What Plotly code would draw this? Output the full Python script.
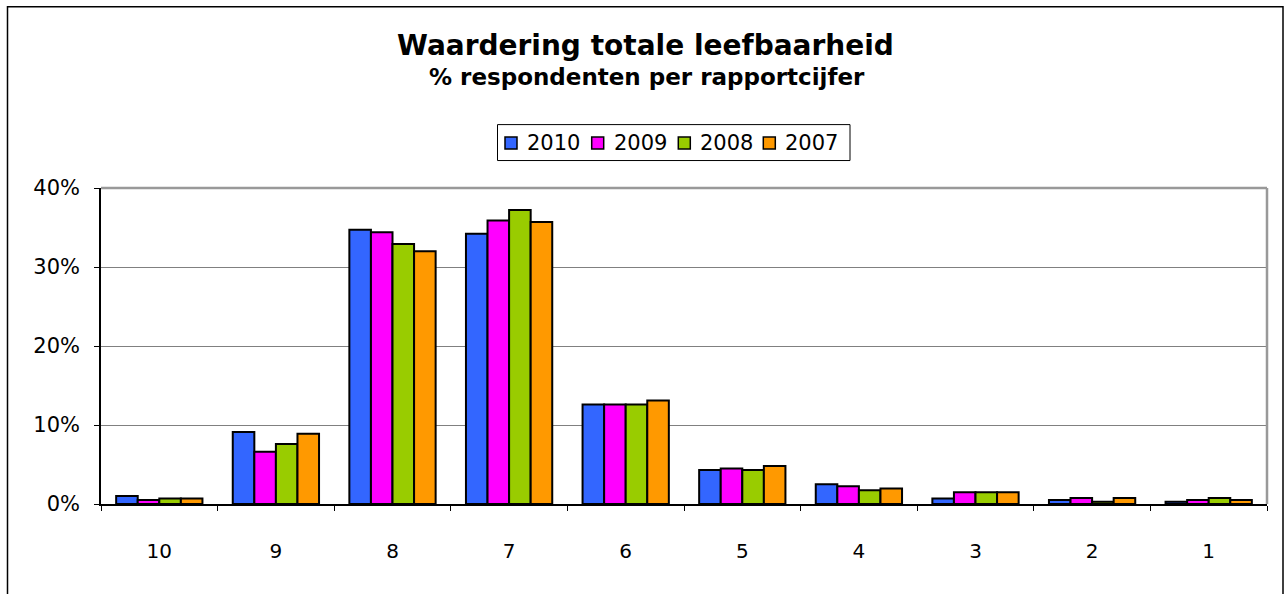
import plotly.graph_objects as go

categories = ["10", "9", "8", "7", "6", "5", "4", "3", "2", "1"]
series_names = ["2010", "2009", "2008", "2007"]
v2010 = [1.0, 9.1, 34.7, 34.2, 12.6, 4.3, 2.5, 0.7, 0.5, 0.3]
v2009 = [0.5, 6.6, 34.4, 35.9, 12.6, 4.5, 2.25, 1.5, 0.75, 0.5]
v2008 = [0.7, 7.6, 32.9, 37.2, 12.6, 4.3, 1.75, 1.5, 0.3, 0.75]
v2007 = [0.7, 8.9, 32.0, 35.7, 13.1, 4.8, 1.95, 1.5, 0.75, 0.5]
colors = ["#3366FF", "#FF00FF", "#99CC00", "#FF9900"]
y_ticks = [0, 10, 20, 30, 40]
y_tick_labels = ["0%", "10%", "20%", "30%", "40%"]

W, H = 1288, 594
L, R, T, B = 101, 1267, 188, 504.5

def px(p):
    return (p - L) / (R - L)

def py(p):
    return (B - p) / (B - T)

fig = go.Figure()
for name, vals, col in zip(series_names, [v2010, v2009, v2008, v2007], colors):
    fig.add_trace(go.Bar(
        x=categories, y=vals, name=name,
        marker=dict(color=col, line=dict(color="black", width=2)),
    ))

fig.update_layout(
    width=W, height=H,
    margin=dict(l=L, r=W - R, t=T, b=H - B, autoexpand=False),
    paper_bgcolor="white", plot_bgcolor="white",
    barmode="group", bargap=0.26, bargroupgap=0,
    font=dict(family="DejaVu Sans", color="black"),
    showlegend=False,
    xaxis=dict(
        type="category", tickson="boundaries", ticks="outside", ticklen=5,
        tickcolor="black", showline=True, linecolor="black", linewidth=1.5,
        showgrid=False, tickfont=dict(size=20), ticklabelstandoff=28,
    ),
    yaxis=dict(
        range=[0, 40], tickvals=y_ticks, ticktext=y_tick_labels,
        ticks="outside", ticklen=5, tickcolor="black",
        showline=True, linecolor="black", linewidth=1.5,
        showgrid=True, gridcolor="#808080", gridwidth=1,
        tickfont=dict(size=21), zeroline=False, ticklabelstandoff=10,
    ),
)

# titles
fig.add_annotation(text="<b>Waardering totale leefbaarheid</b>", x=px(645), xref="paper",
                   y=py(45), yref="paper", yanchor="middle", showarrow=False,
                   font=dict(size=28, family="DejaVu Sans"))
fig.add_annotation(text="<b>% respondenten per rapportcijfer</b>", x=px(647), xref="paper",
                   y=py(77), yref="paper", yanchor="middle", showarrow=False,
                   font=dict(size=23, family="DejaVu Sans"))

# manual legend
fig.add_shape(type="rect", xref="paper", yref="paper",
              x0=px(497.5), x1=px(850), y0=py(124.5), y1=py(160.5),
              line=dict(color="black", width=1), fillcolor="white")
sq_x = [505, 591.7, 678.3, 763.3]
for name, col, sx in zip(series_names, colors, sq_x):
    fig.add_shape(type="rect", xref="paper", yref="paper",
                  x0=px(sx), x1=px(sx + 12), y0=py(137), y1=py(149),
                  line=dict(color="black", width=1.5), fillcolor=col)
    fig.add_annotation(text=name, x=px(sx + 20), xref="paper", xanchor="left",
                       y=py(143), yref="paper", yanchor="middle", showarrow=False,
                       font=dict(size=21, family="DejaVu Sans"))

# plot area border (gray, top and right)
fig.add_shape(type="line", xref="paper", yref="paper", x0=0, x1=1, y0=1, y1=1,
              line=dict(color="#999999", width=2.5))
fig.add_shape(type="line", xref="paper", yref="paper", x0=1, x1=1, y0=0, y1=1,
              line=dict(color="#999999", width=2.5))
# outer chart border
fig.add_shape(type="rect", xref="paper", yref="paper",
              x0=px(7.5), x1=px(1283), y0=py(6.5), y1=py(620),
              line=dict(color="black", width=1.5), fillcolor="rgba(0,0,0,0)", layer="below")

fig.write_html("out.html", config={"displayModeBar": False},
               post_script="document.body.style.margin='0';document.body.style.padding='0';")
